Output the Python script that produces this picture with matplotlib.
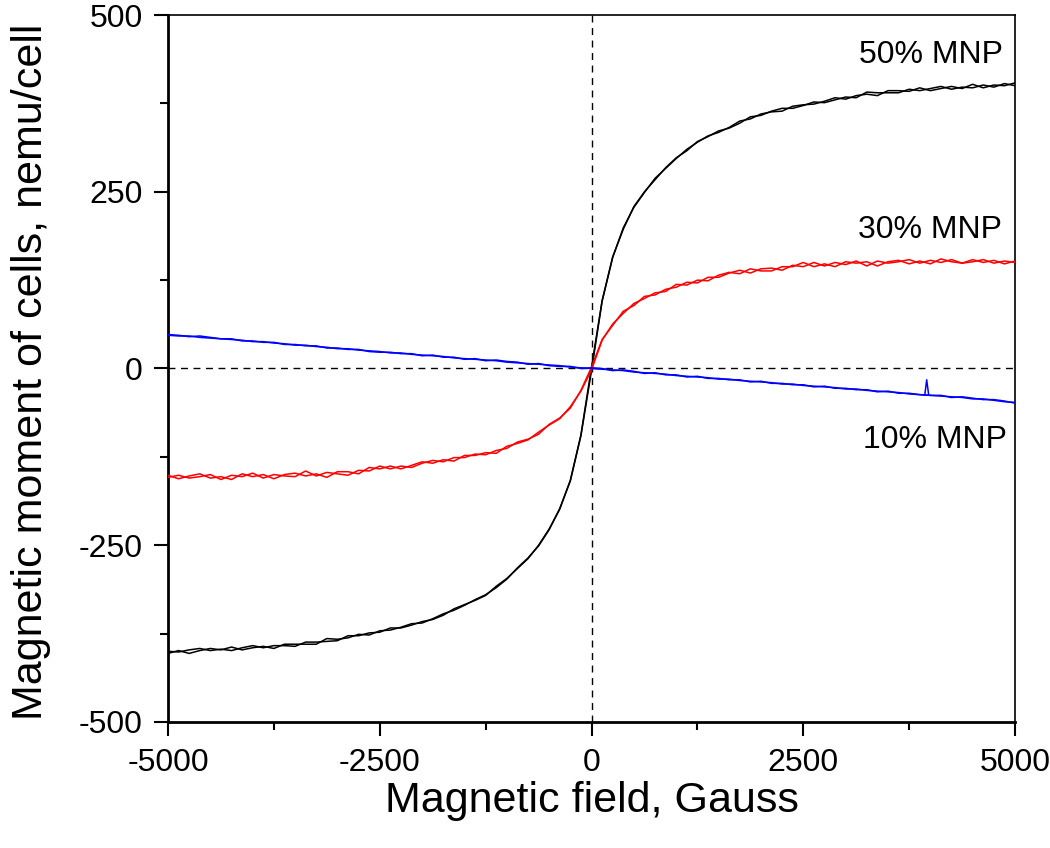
import numpy as np
import matplotlib
matplotlib.use("Agg")
import matplotlib.pyplot as plt
from matplotlib.ticker import MultipleLocator

plt.rcParams['font.family'] = ['Liberation Sans', 'DejaVu Sans']
plt.rcParams['axes.unicode_minus'] = False

# field grid, Gauss
field = np.arange(-5000, 5001, 125)

# 50% MNP, two sweep branches
mnp50_a = [-403, -399, -403, -399, -396, -398, -394, -398, -395, -393,
           -396, -390, -390, -390, -390, -382, -383, -381, -376, -377,
           -371, -370, -366, -361, -360, -354, -347, -342, -335, -327,
           -320, -310, -298, -282, -268, -251, -228, -198, -159, -95,
           -3,
           95, 157, 199, 228, 249, 269, 283, 297, 310, 320,
           329, 334, 341, 350, 353, 360, 363, 364, 371, 373,
           374, 378, 383, 381, 386, 388, 386, 393, 393, 392,
           397, 393, 396, 399, 396, 402, 397, 401, 400, 404]
mnp50_b = [-400, -401, -398, -396, -399, -397, -399, -395, -392, -395,
           -392, -392, -393, -387, -387, -386, -385, -378, -378, -374,
           -373, -367, -367, -363, -358, -355, -349, -340, -334, -328,
           -321, -308, -297, -283, -269, -250, -227, -199, -158, -94,
           2,
           96, 158, 197, 229, 250, 267, 284, 298, 308, 321,
           328, 336, 340, 347, 356, 358, 364, 368, 368, 372,
           377, 376, 380, 384, 383, 391, 390, 390, 390, 395,
           393, 396, 399, 395, 398, 397, 401, 398, 403, 400]

# 30% MNP
mnp30_a = [-151, -156, -152, -149, -155, -153, -157, -149, -153, -150,
           -156, -150, -148, -152, -149, -154, -146, -146, -149, -140,
           -142, -138, -142, -137, -132, -134, -129, -131, -123, -123,
           -119, -120, -110, -106, -101, -90, -80, -71, -54, -32,
           -2,
           40, 63, 78, 92, 99, 107, 109, 119, 118, 125,
           124, 132, 136, 134, 141, 138, 138, 144, 144, 150,
           144, 148, 144, 151, 149, 151, 145, 151, 153, 148,
           152, 148, 155, 151, 149, 154, 150, 153, 148, 152]
mnp30_b = [-154, -151, -155, -153, -150, -157, -151, -153, -148, -155,
           -150, -152, -153, -145, -152, -147, -149, -151, -144, -145,
           -138, -142, -138, -140, -134, -130, -132, -126, -126, -121,
           -122, -116, -113, -104, -100, -93, -79, -70, -56, -31,
           2,
           41, 61, 81, 89, 102, 104, 112, 115, 122, 121,
           129, 129, 135, 139, 135, 141, 142, 139, 146, 144,
           150, 145, 150, 147, 152, 145, 152, 149, 151, 154,
           149, 153, 150, 154, 149, 151, 154, 149, 152, 150]

# 10% MNP
mnp10_a = [47, 46, 46, 44, 43, 42, 41, 40, 38, 38,
           36, 35, 33, 33, 31, 30, 28, 28, 26, 25,
           24, 22, 22, 20, 19, 18, 17, 15, 14, 13,
           12, 11, 9, 8, 7, 6, 5, 4, 2, 1,
           0,
           -1, -2, -3, -5, -6, -7, -8, -10, -11, -12,
           -13, -15, -15, -17, -18, -19, -20, -22, -22, -24,
           -25, -26, -27, -29, -29, -31, -32, -33, -34, -36,
           -37, -38, -39, -40, -41, -43, -43, -45, -47, -48]
mnp10_b = [48, 47, 45, 46, 44, 42, 42, 39, 39, 37,
           37, 34, 34, 32, 32, 29, 29, 27, 27, 24,
           23, 23, 21, 21, 18, 19, 16, 16, 13, 14,
           11, 12, 10, 9, 6, 7, 4, 3, 3, 0,
           1,
           0, -3, -2, -4, -7, -6, -9, -9, -12, -11,
           -14, -14, -16, -16, -19, -18, -21, -21, -23, -23,
           -26, -25, -28, -28, -30, -30, -33, -32, -35, -35,
           -37, -38, -38, -41, -40, -42, -44, -44, -46, -49]
# single-point glitch on one 10% sweep
spike_field = [3935, 3957, 3980]
spike_val = [-37, -16, -37]

fig = plt.figure(figsize=(10.5, 8.48), dpi=100)
ax = fig.add_axes([0.16, 0.1486, 0.8067, 0.8337])

ax.axhline(0, color='black', lw=1.0, ls=(0, (5, 4)), zorder=1)
ax.axvline(0, color='black', lw=1.0, ls=(0, (5, 4)), zorder=1)

for ys in (mnp50_a, mnp50_b):
    ax.plot(field, ys, color='black', lw=1.1, zorder=3)
for ys in (mnp30_a, mnp30_b):
    ax.plot(field, ys, color='#ff0000', lw=1.1, zorder=3)
for ys in (mnp10_a, mnp10_b):
    ax.plot(field, ys, color='#0000ff', lw=1.1, zorder=4)
ax.plot(spike_field, spike_val, color='#0000ff', lw=1.1, zorder=4)

ax.set_xlim(-5000, 5000)
ax.set_ylim(-500, 500)
ax.xaxis.set_major_locator(MultipleLocator(2500))
ax.xaxis.set_minor_locator(MultipleLocator(1250))
ax.yaxis.set_major_locator(MultipleLocator(250))
ax.yaxis.set_minor_locator(MultipleLocator(125))
ax.tick_params(which='major', direction='out', length=10, width=1.5,
               labelsize=23, top=False, right=False)
ax.tick_params(which='minor', direction='out', length=5.5, width=1.5,
               top=False, right=False)
ax.tick_params(axis='x', pad=9)
ax.tick_params(axis='y', pad=8)

ax.spines['left'].set_linewidth(2.0)
ax.spines['bottom'].set_linewidth(2.0)
ax.spines['top'].set_linewidth(1.2)
ax.spines['right'].set_linewidth(1.2)

ax.text(4860, 432, '50% MNP', fontsize=23, ha='right', va='baseline')
ax.text(4850, 185, '30% MNP', fontsize=23, ha='right', va='baseline')
ax.text(4900, -112, '10% MNP', fontsize=23, ha='right', va='baseline')

fig.text(592 / 1050, 1 - 801 / 848, 'Magnetic field, Gauss', fontsize=31,
         ha='center', va='center')
fig.text(31 / 1050, 1 - 372 / 848, 'Magnetic moment of cells, nemu/cell',
         fontsize=31, rotation=90, ha='center', va='center')

fig.savefig('out.png', dpi=100)
